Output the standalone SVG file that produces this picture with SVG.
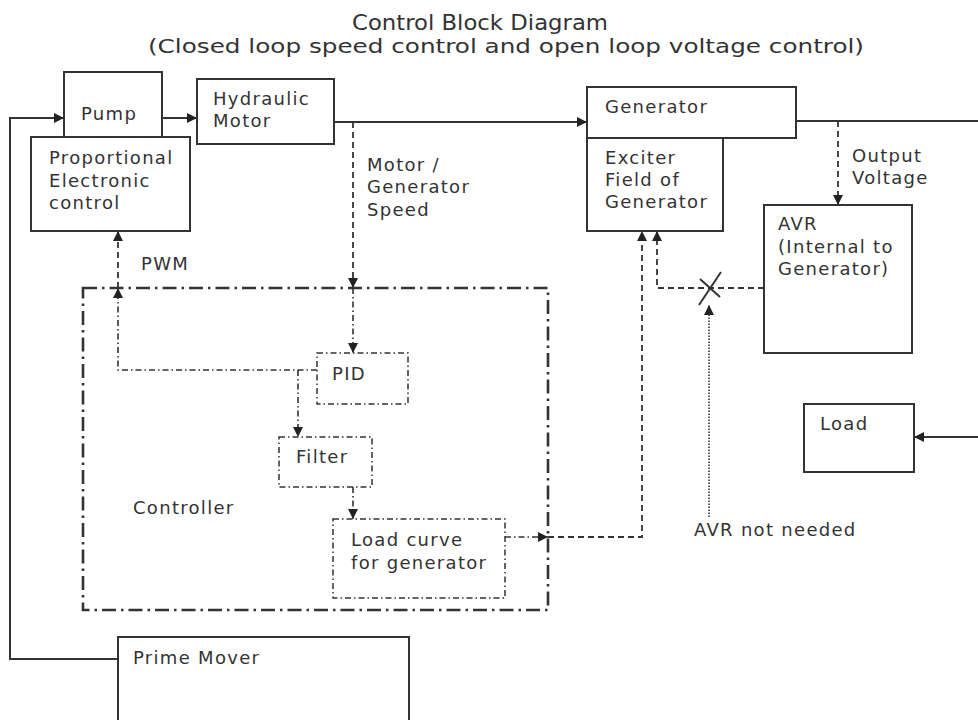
<svg xmlns="http://www.w3.org/2000/svg" width="978" height="720" viewBox="0 0 978 720">
<style>
  .box{fill:#fff;stroke:#333;stroke-width:2}
  .ctrl{fill:none;stroke:#333;stroke-width:2.6;stroke-dasharray:14 5 2.5 5}
  .sub{fill:#fff;stroke:#333;stroke-width:1.5;stroke-dasharray:6 3 1.5 3}
  .solid{fill:none;stroke:#333;stroke-width:2}
  .dash{fill:none;stroke:#333;stroke-width:1.8;stroke-dasharray:6 4}
  .dd{fill:none;stroke:#333;stroke-width:1.6;stroke-dasharray:6 3 1.5 3}
  .dot{fill:none;stroke:#333;stroke-width:1.6;stroke-dasharray:1.5 1.5}
  text{font-family:"DejaVu Sans",Verdana,sans-serif;font-size:18px;letter-spacing:1.3px;fill:#333}
  .title{font-size:22px;letter-spacing:0}
  .subtitle{font-size:19px;letter-spacing:0}
</style>
<defs>
  <marker id="ah" viewBox="0 0 10 10" refX="10" refY="5" markerWidth="11" markerHeight="10" markerUnits="userSpaceOnUse" orient="auto">
    <path d="M0,0 L10,5 L0,10 z" fill="#222"/>
  </marker>
</defs>
<rect width="978" height="720" fill="#fff"/>
<g id="title">
  <text class="title" x="480" y="30" text-anchor="middle" textLength="256" lengthAdjust="spacingAndGlyphs">Control Block Diagram</text>
  <text class="subtitle" x="506" y="53" text-anchor="middle" textLength="716" lengthAdjust="spacingAndGlyphs">(Closed loop speed control and open loop voltage control)</text>
</g>
<g id="connectors">
  <path class="solid" d="M118,659 H10 V118 H64" marker-end="url(#ah)"/>
  <path class="solid" d="M162,118 H197" marker-end="url(#ah)"/>
  <path class="solid" d="M334,122 H587" marker-end="url(#ah)"/>
  <path class="solid" d="M796,121 H978"/>
  <path class="solid" d="M978,437 H914" marker-end="url(#ah)"/>
  <path class="dash" d="M353,122 V288" marker-end="url(#ah)"/>
  <path class="dd" d="M353,288 V353" marker-end="url(#ah)"/>
  <path class="dd" d="M317,370 H118 V288" marker-end="url(#ah)"/>
  <path class="dash" d="M118,288 V231" marker-end="url(#ah)"/>
  <path class="dd" d="M298,370 V437" marker-end="url(#ah)"/>
  <path class="dd" d="M353,487 V519" marker-end="url(#ah)"/>
  <path class="dd" d="M505,537 H548" marker-end="url(#ah)"/>
  <path class="dash" d="M548,537 H642 V231" marker-end="url(#ah)"/>
  <path class="dash" d="M838,121 V205" marker-end="url(#ah)"/>
  <path class="dash" d="M764,288 H657 V231" marker-end="url(#ah)"/>
  <path class="solid" d="M699,305 L721,272 M700,279 L720,297" stroke-width="1.5"/>
  <path class="dot" d="M709,517 V305" marker-end="url(#ah)"/>
</g>
<g id="controller">
  <rect class="ctrl" x="83" y="288" width="465" height="322"/>
  <text x="133" y="514">Controller</text>
</g>
<g id="pump">
  <rect class="box" x="64" y="72" width="98" height="65"/>
  <text x="81" y="120">Pump</text>
</g>
<g id="proportional">
  <rect class="box" x="31" y="137" width="159" height="94"/>
  <text x="49" y="164">Proportional</text>
  <text x="49" y="187">Electronic</text>
  <text x="49" y="209">control</text>
</g>
<g id="hydraulic-motor">
  <rect class="box" x="197" y="79" width="137" height="65"/>
  <text x="213" y="105">Hydraulic</text>
  <text x="213" y="127">Motor</text>
</g>
<g id="generator">
  <rect class="box" x="587" y="87" width="209" height="51"/>
  <text x="605" y="113">Generator</text>
</g>
<g id="exciter">
  <rect class="box" x="587" y="138" width="136" height="93"/>
  <text x="605" y="164">Exciter</text>
  <text x="605" y="186">Field of</text>
  <text x="605" y="208">Generator</text>
</g>
<g id="avr">
  <rect class="box" x="764" y="205" width="148" height="148"/>
  <text x="778" y="230">AVR</text>
  <text x="778" y="253">(Internal to</text>
  <text x="778" y="275">Generator)</text>
</g>
<g id="load">
  <rect class="box" x="804" y="404" width="110" height="68"/>
  <text x="820" y="430">Load</text>
</g>
<g id="pid">
  <rect class="sub" x="317" y="353" width="91" height="51"/>
  <text x="332" y="380">PID</text>
</g>
<g id="filter">
  <rect class="sub" x="279" y="437" width="93" height="50"/>
  <text x="296" y="463">Filter</text>
</g>
<g id="load-curve">
  <rect class="sub" x="333" y="519" width="172" height="79"/>
  <text x="351" y="546">Load curve</text>
  <text x="351" y="569">for generator</text>
</g>
<g id="prime-mover">
  <rect class="box" x="118" y="637" width="291" height="95"/>
  <text x="133" y="664">Prime Mover</text>
</g>
<g id="labels">
  <text x="367" y="171">Motor /</text>
  <text x="367" y="193">Generator</text>
  <text x="367" y="216">Speed</text>
  <text x="852" y="162">Output</text>
  <text x="852" y="184">Voltage</text>
  <text x="141" y="270">PWM</text>
  <text x="694" y="536">AVR not needed</text>
</g>
</svg>
